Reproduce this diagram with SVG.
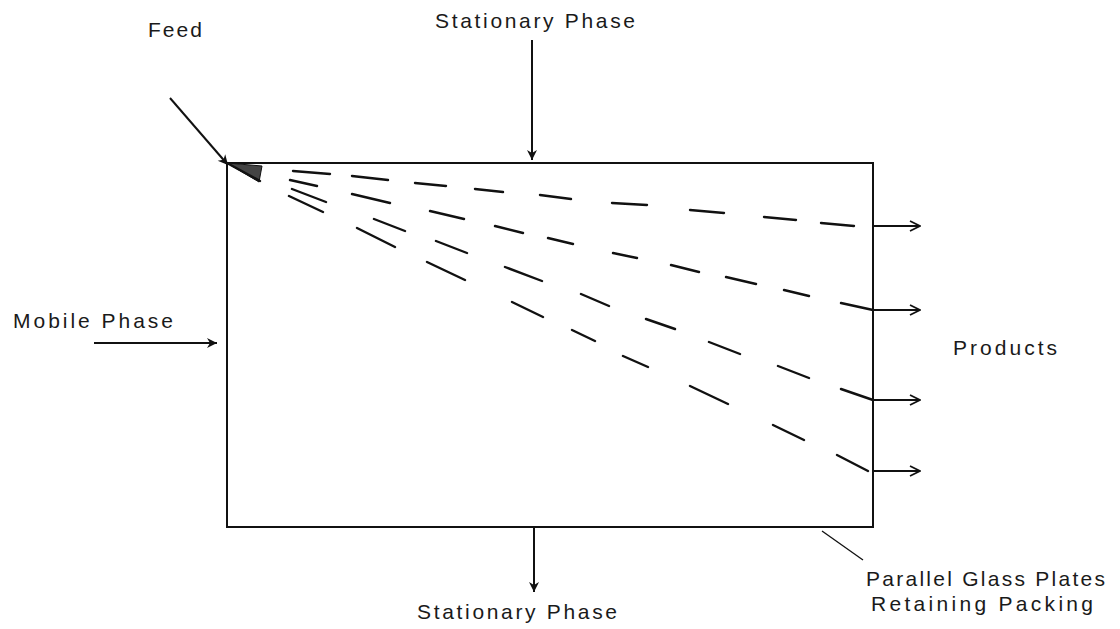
<svg xmlns="http://www.w3.org/2000/svg" width="1120" height="629" viewBox="0 0 1120 629">
<style>
text{font-family:"Liberation Sans",Arial,sans-serif;font-size:21px;fill:#1a1a1a;}
.ln{stroke:#111;stroke-width:2;fill:none;}
.d{stroke:#111;stroke-width:2.4;fill:none;stroke-linecap:round;}
.ar{stroke:#111;stroke-width:2;fill:none;}
</style>
<defs>
<marker id="ah" viewBox="0 0 12 12" refX="11" refY="6" markerWidth="12" markerHeight="12" markerUnits="userSpaceOnUse" orient="auto">
<path d="M1,1 L11,6 L1,11" stroke="#111" stroke-width="1.8" fill="none"/>
</marker>
<marker id="ahf" viewBox="0 0 12 12" refX="11" refY="6" markerWidth="12" markerHeight="12" markerUnits="userSpaceOnUse" orient="auto">
<path d="M1,1 L11,6 L1,11 L4,6 Z" fill="#111"/>
</marker>
</defs>
<g id="plates">
<rect x="227" y="163" width="646" height="364" class="ln"/>
</g>
<g id="feed">
<text x="148" y="37" textLength="54" lengthAdjust="spacing">Feed</text>
<polygon points="227,163 262,166 259,182" fill="#444" stroke="#111" stroke-width="1"/>
</g>
<g id="stationary-top"><text x="435" y="28" textLength="200" lengthAdjust="spacing">Stationary Phase</text></g>
<g id="stationary-bottom"><text x="417" y="619" textLength="200" lengthAdjust="spacing">Stationary Phase</text></g>
<g id="mobile"><text x="13" y="328" textLength="160" lengthAdjust="spacing">Mobile Phase</text></g>
<g id="products"><text x="953" y="355" textLength="104" lengthAdjust="spacing">Products</text></g>
<g id="plates-label">
<text x="866" y="586" textLength="239" lengthAdjust="spacing">Parallel Glass Plates</text>
<text x="871" y="611" textLength="222" lengthAdjust="spacing">Retaining Packing</text>
</g>
<g id="bands">
<path class="d" d="M293,171L330,174M352,176L388,180M415,183L446,186M475,189L503,192M540,195L571,199M612,203L647,205M690,210L724,213M764,217L796,220M821,223L854,226"/>
<path class="d" d="M290,180L317,186M352,194L390,203M430,211L464,219M495,226L523,233M548,238L573,244M613,253L637,258M671,265L699,272M726,277L756,284M784,290L809,296M841,303L873,310"/>
<path class="d" d="M292,189L326,202M374,219L405,231M436,241L467,253M505,267L542,281M581,294L609,306M646,319L675,329M709,342L740,354M778,366L809,378M841,389L873,400"/>
<path class="d" d="M289,196L323,212M357,228L395,247M427,262L465,280M512,302L543,317M572,330L595,341M623,356L648,367M690,386L728,404M773,425L804,440M837,455L868,471"/>
</g>
<g id="connectors">
<line x1="170" y1="98" x2="228" y2="165" class="ar" marker-end="url(#ahf)"/>
<line x1="227" y1="163" x2="260" y2="181" class="d"/>
<line x1="532" y1="40" x2="532" y2="160" class="ar" marker-end="url(#ahf)"/>
<line x1="534" y1="527" x2="534" y2="592" class="ar" marker-end="url(#ahf)"/>
<line x1="94" y1="343" x2="217" y2="343" class="ar" marker-end="url(#ahf)"/>
<line x1="873" y1="226" x2="920" y2="226" class="ar" marker-end="url(#ah)"/>
<line x1="873" y1="310" x2="920" y2="310" class="ar" marker-end="url(#ah)"/>
<line x1="873" y1="400" x2="920" y2="400" class="ar" marker-end="url(#ah)"/>
<line x1="873" y1="471" x2="920" y2="471" class="ar" marker-end="url(#ah)"/>
<line x1="822" y1="531" x2="863" y2="560" stroke="#111" stroke-width="1.3"/>
</g>
</svg>
